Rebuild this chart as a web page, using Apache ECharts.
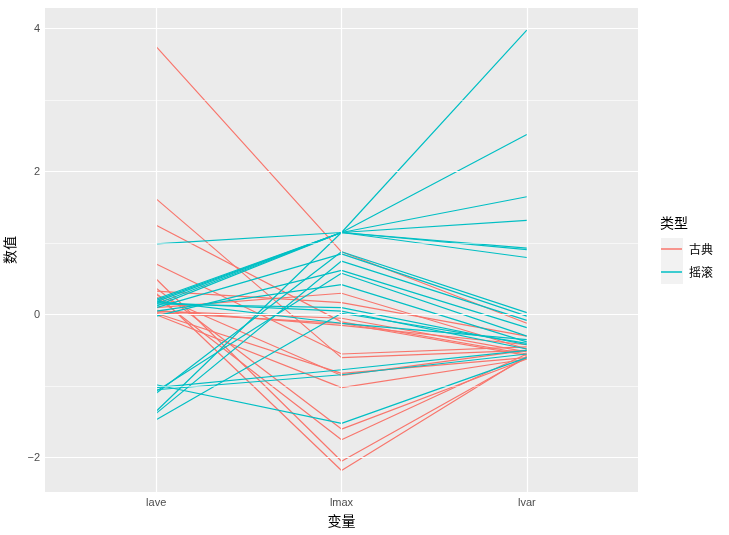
<!DOCTYPE html>
<html>
<head>
<meta charset="utf-8">
<script src="https://cdn.jsdelivr.net/npm/echarts@6/dist/echarts.min.js"></script>
<style>
  html, body { margin: 0; padding: 0; background: #fff; }
  #chart { width: 729px; height: 535px; }
</style>
</head>
<body>
<div id="chart"></div>
<script>
// variables on the x axis
const variables = ["lave", "lmax", "lvar"];
const yTicks = [-2, 0, 2, 4];
const yMinor = [-1, 1, 3];

// 古典 (classical) – one row per observation: [lave, lmax, lvar]
const classical = [
  [3.75, 0.88, -0.12],
  [1.62, -0.60, -0.50],
  [1.25, -0.10, -0.55],
  [0.71, -0.55, -0.45],
  [0.50, -2.05, -0.60],
  [0.37, -1.60, -0.62],
  [0.33, 0.17, -0.30],
  [0.30, -2.18, -0.58],
  [0.25, -1.75, -0.55],
  [0.10, 0.30, -0.48],
  [0.05, -0.05, -0.52],
  [0.03, -0.12, -0.57],
  [0.02, -0.82, -0.60],
  [0.00, -1.02, -0.62],
  [0.06, -0.15, -0.42],
  [0.28, -0.85, -0.50]
];

// 摇滚 (rock)
const rock = [
  [0.20, 1.15, 3.98],
  [0.15, 1.15, 2.52],
  [0.99, 1.15, 1.65],
  [0.18, 1.15, 1.32],
  [0.12, 1.15, 0.93],
  [-1.35, 1.15, 0.91],
  [0.22, 1.15, 0.80],
  [-1.10, 0.88, 0.03],
  [0.10, 0.85, -0.02],
  [-1.38, 0.75, -0.08],
  [-0.02, 0.62, -0.18],
  [-1.07, 0.58, -0.30],
  [0.05, 0.42, -0.38],
  [0.15, 0.10, -0.42],
  [0.17, 0.05, -0.48],
  [-1.47, 0.02, -0.40],
  [-0.98, -1.52, -0.60],
  [-1.02, -0.77, -0.50],
  [-1.05, -0.84, -0.55],
  [0.19, -0.12, -0.35]
];

const colors = { "古典": "#F8766D", "摇滚": "#00BFC4" };
const font = "'Noto Sans CJK SC', 'Noto Sans', sans-serif";
const tickFont = "'Liberation Sans', Arial, sans-serif";

const chart = echarts.init(document.getElementById("chart"));

function lineSeries(name, rows) {
  return rows.map((r) => ({
    name: name,
    type: "line",
    z: 3,
    symbol: "none",
    silent: true,
    animation: false,
    lineStyle: { color: colors[name], width: 1.2 },
    itemStyle: { color: colors[name] },
    data: r.map((v, i) => [i, v])
  }));
}

const gridSeries = {
  type: "line",
  data: [],
  z: 1,
  silent: true,
  markLine: {
    silent: true,
    symbol: "none",
    animation: false,
    label: { show: false },
    data: [
      ...yMinor.map((v) => ({ yAxis: v, lineStyle: { color: "#fff", width: 0.6, type: "solid" } })),
      ...yTicks.map((v) => ({ yAxis: v, lineStyle: { color: "#fff", width: 1.2, type: "solid" } })),
      ...variables.map((v, i) => ({ xAxis: i, lineStyle: { color: "#fff", width: 1.2, type: "solid" } }))
    ]
  }
};

const option = {
  animation: false,
  textStyle: { fontFamily: font },
  grid: {
    left: 45, right: 91, top: 8, bottom: 43,
    outerBoundsMode: "none",
    containLabel: false,
    show: true, backgroundColor: "#EBEBEB", borderWidth: 0
  },
  xAxis: {
    type: "value",
    min: -0.6,
    max: 2.6,
    name: "变量",
    nameLocation: "middle",
    nameGap: 22,
    nameTextStyle: { color: "#000", fontSize: 14, fontFamily: font },
    axisLine: { show: false },
    axisTick: { show: true, length: 3, customValues: [0, 1, 2], lineStyle: { color: "#333", width: 1 } },
    axisLabel: {
      customValues: [0, 1, 2],
      formatter: (v) => variables[Math.round(v)],
      color: "#4D4D4D", fontSize: 11, margin: 5, fontFamily: tickFont
    },
    splitLine: { show: false }
  },
  yAxis: {
    type: "value",
    min: -2.48,
    max: 4.29,
    name: "数值",
    nameLocation: "middle",
    nameRotate: 90,
    nameGap: 26,
    nameTextStyle: { color: "#000", fontSize: 14, fontFamily: font },
    axisLine: { show: false },
    axisTick: { show: true, length: 3, customValues: yTicks, lineStyle: { color: "#333", width: 1 } },
    axisLabel: {
      customValues: yTicks,
      formatter: (v) => (v < 0 ? "\u2212" + Math.abs(v) : String(v)),
      color: "#4D4D4D", fontSize: 11, margin: 5, fontFamily: tickFont
    },
    splitLine: { show: false }
  },
  legend: {
    orient: "vertical",
    left: 661,
    top: 242,
    padding: 0,
    icon: "rect",
    itemWidth: 21,
    itemHeight: 1.5,
    itemGap: 9,
    data: ["古典", "摇滚"],
    textStyle: { color: "#000", fontSize: 12, lineHeight: 14, fontFamily: font, padding: [0, 0, 0, 2] }
  },
  graphic: [
    {
      type: "text",
      left: 660,
      top: 216,
      style: { text: "类型", fill: "#000", font: "14px " + font }
    },
    {
      type: "rect",
      z: -1,
      shape: { x: 661, y: 238, width: 22, height: 46 },
      style: { fill: "#F2F2F2" }
    }
  ],
  series: [gridSeries, ...lineSeries("古典", classical), ...lineSeries("摇滚", rock)]
};

chart.setOption(option);
</script>
</body>
</html>
